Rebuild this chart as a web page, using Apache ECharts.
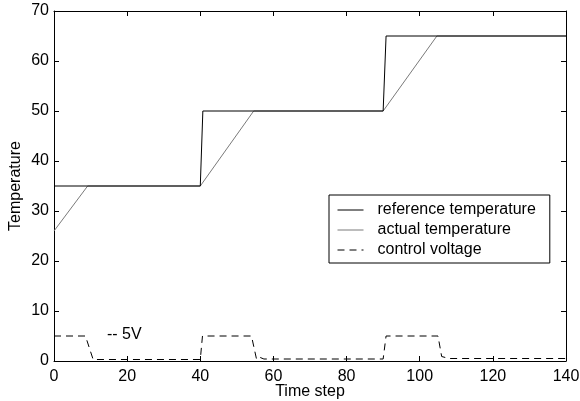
<!DOCTYPE html>
<html>
<head>
<meta charset="utf-8">
<script src="https://cdn.jsdelivr.net/npm/echarts@6/dist/echarts.min.js"></script>
<style>html,body{margin:0;padding:0;background:#fff;}#c{width:580px;height:401px;}</style>
</head>
<body>
<div id="c"></div>
<script>
const xTicks = [0, 20, 40, 60, 80, 100, 120, 140];
const yTicks = [0, 10, 20, 30, 40, 50, 60, 70];
const refTime = [0, 40, 40.7, 90, 90.8, 140];
const refTemp = [35, 35, 50, 50, 65, 65];
const actTime = [0, 9.2, 40, 54.6, 90, 104.7, 140];
const actTemp = [26, 35, 35, 50, 50, 65, 65];
const voltTime = [0, 8.6, 10.7, 40, 40.6, 54, 55.4, 56.4, 57.4, 90, 90.8, 105, 106, 108, 140];
const voltVal = [5, 5, 0.3, 0.3, 5, 5, 0.3, 0.7, 0.4, 0.4, 5, 5, 0.9, 0.5, 0.5];
const seriesNames = ['reference temperature', 'actual temperature', 'control voltage'];
const xName = 'Time step';
const yName = 'Temperature';
const note = '-- 5V';

const FONT = "'Liberation Sans', Arial, sans-serif";
const FS = 16;
const zip = (a, b) => a.map((t, i) => [t, b[i]]);

const chart = echarts.init(document.getElementById('c'), null, {renderer: 'canvas'});
const baseAxis = {
  axisLine: {show: true, onZero: false, lineStyle: {color: '#000', width: 1}},
  axisTick: {show: true, inside: true, length: 5, lineStyle: {color: '#000', width: 1}},
  splitLine: {show: false},
  axisLabel: {color: '#000', fontSize: FS, fontFamily: FONT}
};
chart.setOption({
  animation: false,
  backgroundColor: '#fff',
  grid: {left: 54, right: 14, top: 11, bottom: 40, containLabel: false, outerBoundsMode: 'none'},
  xAxis: [
    Object.assign({}, baseAxis, {
      type: 'value', min: xTicks[0], max: xTicks[xTicks.length - 1], interval: 20, position: 'bottom',
      name: xName, nameLocation: 'middle', nameGap: 23, nameMoveOverlap: false,
      nameTextStyle: {color: '#000', fontSize: FS, fontFamily: FONT},
      axisLabel: {color: '#000', fontSize: FS, fontFamily: FONT, margin: 8}
    }),
    Object.assign({}, baseAxis, {
      type: 'value', min: xTicks[0], max: xTicks[xTicks.length - 1], interval: 20, position: 'top',
      axisLabel: {show: false}
    })
  ],
  yAxis: [
    Object.assign({}, baseAxis, {
      type: 'value', min: yTicks[0], max: yTicks[yTicks.length - 1], interval: 10, position: 'left',
      name: yName, nameLocation: 'middle', nameGap: 30, nameMoveOverlap: false,
      nameTextStyle: {color: '#000', fontSize: FS, fontFamily: FONT},
      axisLabel: {color: '#000', fontSize: FS, fontFamily: FONT, margin: 5}
    }),
    Object.assign({}, baseAxis, {
      type: 'value', min: yTicks[0], max: yTicks[yTicks.length - 1], interval: 10, position: 'right',
      axisLabel: {show: false}
    })
  ],
  legend: {
    orient: 'vertical', left: 329, top: 195,
    itemWidth: 26, itemHeight: 12, itemGap: 4,
    padding: [7, 14, 5, 8],
    backgroundColor: '#fff', borderColor: '#000', borderWidth: 1, borderRadius: 0,
    itemStyle: {opacity: 0},
    lineStyle: {width: 1},
    textStyle: {color: '#000', fontSize: FS, lineHeight: 14, fontFamily: FONT, padding: [0, 0, 0, 9]},
    data: seriesNames.map(n => ({name: n}))
  },
  graphic: [{
    type: 'text', left: 107, top: 327,
    style: {text: note, fill: '#000', font: FS + 'px ' + FONT}
  }],
  series: [
    {name: seriesNames[1], type: 'line', data: zip(actTime, actTemp), symbol: 'none', showSymbol: false, z: 2,
     lineStyle: {color: '#7a7a7a', width: 1}, itemStyle: {color: '#7a7a7a'}},
    {name: seriesNames[0], type: 'line', data: zip(refTime, refTemp), symbol: 'none', showSymbol: false, z: 3,
     lineStyle: {color: '#000', width: 1}, itemStyle: {color: '#000'}},
    {name: seriesNames[2], type: 'line', data: zip(voltTime, voltVal), symbol: 'none', showSymbol: false, z: 3,
     lineStyle: {color: '#000', width: 1, type: [7, 5]}, itemStyle: {color: '#000'}}
  ]
});
</script>
</body>
</html>
